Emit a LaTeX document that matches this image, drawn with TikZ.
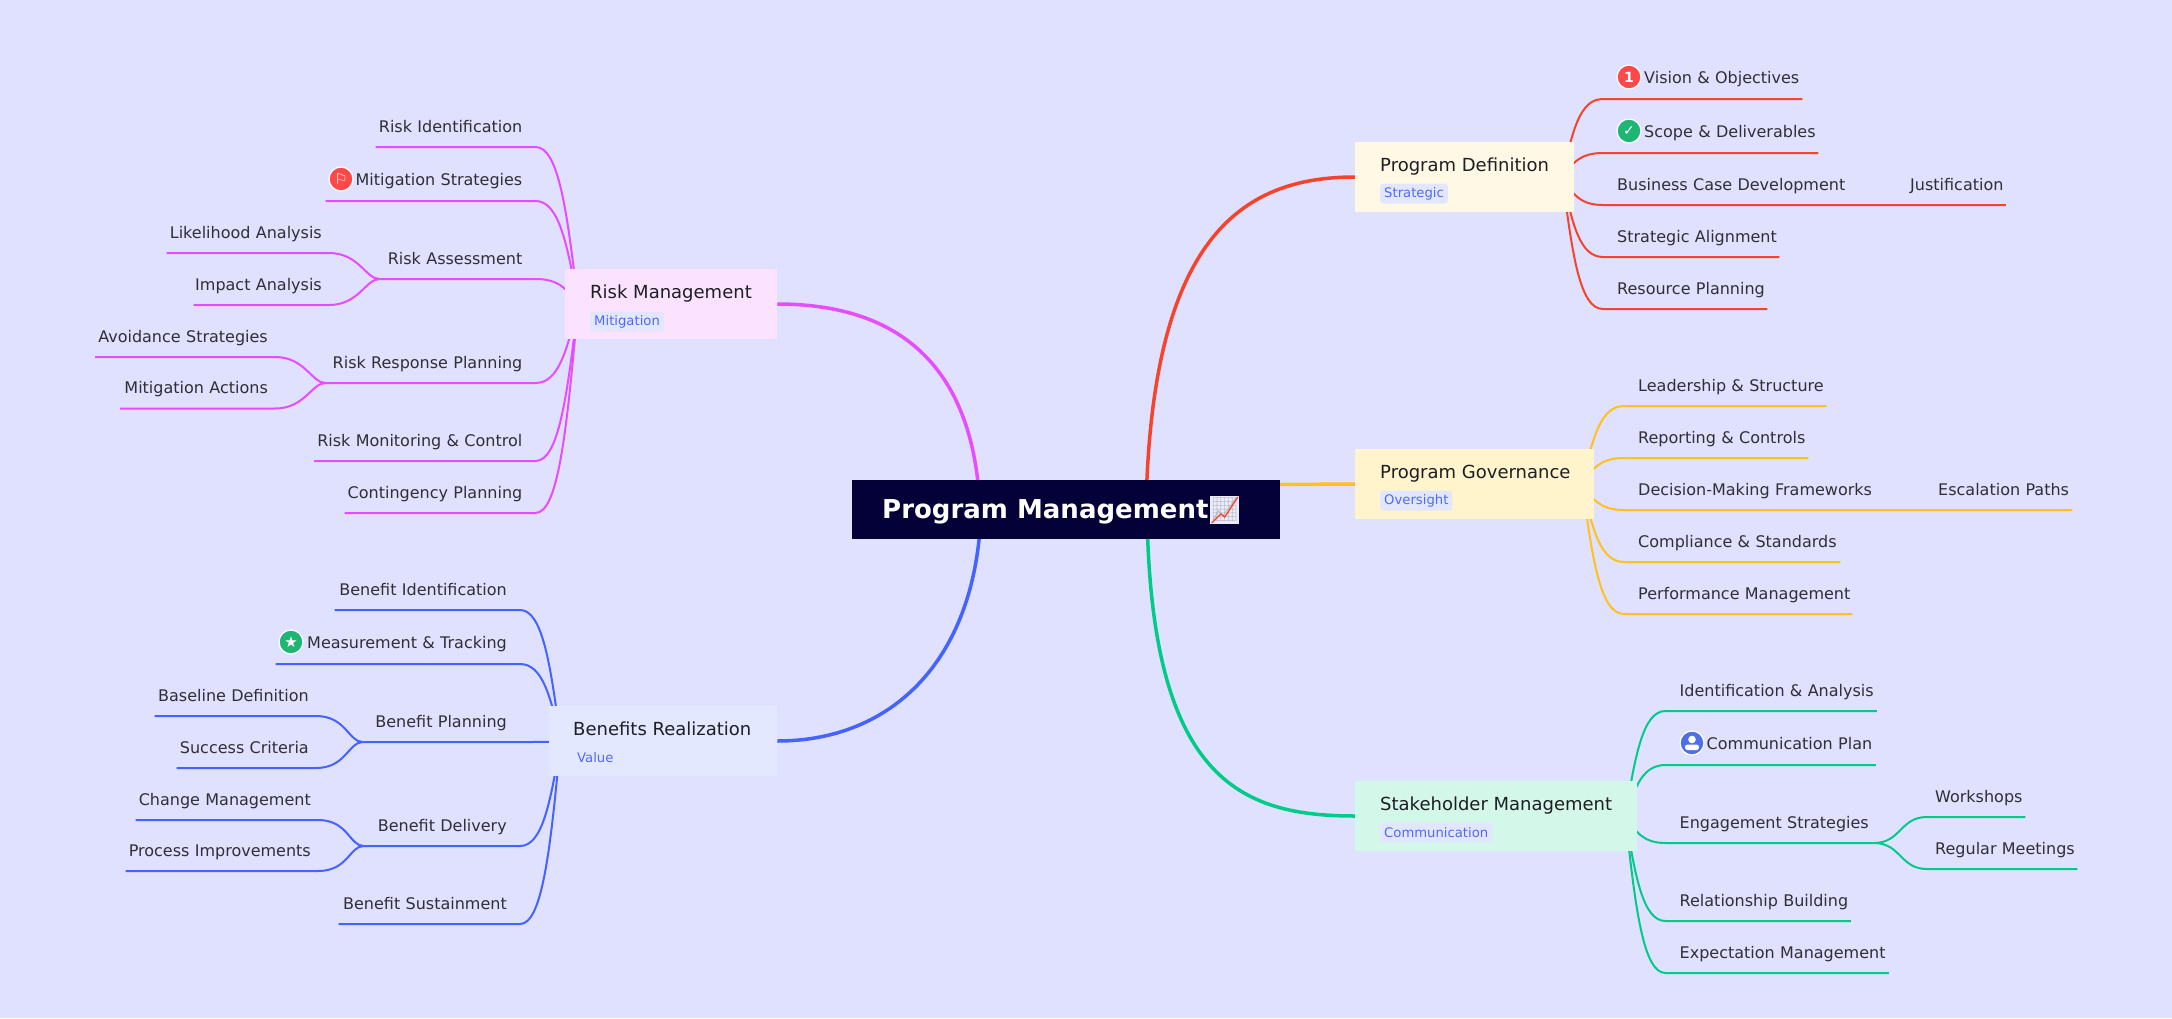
\documentclass[tikz,border=0pt]{standalone}
\usepackage{xcolor}
\usepackage{fontspec}
\setmainfont{DejaVu Sans}
\newfontfamily\emojifont{Noto Emoji}
\usepackage{tikz}
\usetikzlibrary{positioning, backgrounds}
\hyphenpenalty=10000
\exhyphenpenalty=10000

\definecolor{pagebg}{HTML}{E0E0FF}
\definecolor{rootbg}{HTML}{040038}
\definecolor{leaftext}{HTML}{2F2F36}
\definecolor{titletext}{HTML}{1E1E24}
\definecolor{tagtext}{HTML}{4F6BF5}
\definecolor{tagbg}{HTML}{E2E6FF}
\definecolor{redline}{HTML}{F4442C}
\definecolor{yellowline}{HTML}{FFC21A}
\definecolor{greenline}{HTML}{00CC88}
\definecolor{magentaline}{HTML}{E64DFF}
\definecolor{blueline}{HTML}{4563FF}
\definecolor{defbg}{HTML}{FFF8E5}
\definecolor{govbg}{HTML}{FFF4CC}
\definecolor{stakebg}{HTML}{D3F7E8}
\definecolor{riskbg}{HTML}{FBE3FF}
\definecolor{benbg}{HTML}{E3E8FF}
\definecolor{iconred}{HTML}{FF4848}
\definecolor{icongreen}{HTML}{1FB573}
\definecolor{iconblue}{HTML}{4E6FE6}

\begin{document}
\begin{tikzpicture}[x=1pt, y=-1pt]

        % Define block styles
        \tikzstyle{rootbox} = [rectangle, fill=rootbg, minimum width=428pt, minimum height=59pt, inner sep=0pt]
        \tikzstyle{roottitle} = [text=white, inner sep=0pt, font=\fontsize{26}{30}\bfseries\selectfont]
        \tikzstyle{topic} = [rectangle, minimum height=70pt, inner sep=0pt, anchor=west]
        \tikzstyle{title} = [text=titletext, inner sep=0pt, anchor=west, font=\fontsize{18}{22}\selectfont]
        \tikzstyle{tagbox} = [fill=tagbg, text=tagtext, rounded corners=3pt, inner xsep=4pt, inner ysep=0pt, minimum height=20pt, anchor=west, font=\fontsize{13.2}{16}\selectfont]
        \tikzstyle{leaf} = [inner xsep=0pt, inner ysep=10.6pt, text=leaftext, text height=13pt, text depth=4pt, font=\fontsize{16}{20}\selectfont]
        \tikzstyle{rightbase} = [leaf, anchor=south west, align=left]
        \tikzstyle{leftbase} = [leaf, anchor=south east, align=right]
        \tikzstyle{leafright} = [rightbase, execute at begin node=\hspace*{14pt}]
        \tikzstyle{leafleft} = [leftbase, execute at end node=\hspace*{13pt}]
        \tikzstyle{subright} = [rightbase, execute at begin node=\hspace*{8pt}]
        \tikzstyle{subleft} = [leftbase, execute at end node=\hspace*{7pt}]
        \tikzstyle{iconright} = [rightbase, inner ysep=11.6pt, execute at begin node=\hspace*{41pt}]
        \tikzstyle{iconleft} = [leftbase, inner ysep=11.6pt, execute at end node=\hspace*{13pt}]
        \tikzstyle{icon} = [circle, draw=white!90!pagebg, line width=1.3pt, minimum size=24pt, inner sep=0pt, text=white, font=\fontsize{14}{16}\selectfont]
        \tikzstyle{mainarrow} = [line width=3.5pt]
        \tikzstyle{branch} = [line width=2pt]

        \useasboundingbox (0,0) rectangle (2172,1018);

        % Central topic
        \node (root) [rootbox] at (1066,509.5) {};
        \node (roottext) [roottitle, anchor=west] at (882,512) {Program Management};
        \node (rootemoji) [fill=white!92!blue, text=gray!55, inner sep=0pt, minimum size=28pt, anchor=west, font=\emojifont\fontsize{23}{28}\selectfont] at (1210,510) {📈};
        \draw [redline, line width=1.3pt] ([shift={(-13pt,-13pt)}]rootemoji.center) -- ([shift={(-4pt,-4pt)}]rootemoji.center) -- ([shift={(0pt,-7pt)}]rootemoji.center) -- ([shift={(13pt,13pt)}]rootemoji.center);

        % Program Definition
        \node (def) [topic, fill=defbg, minimum width=219pt] at (1355,177) {};
        \node (deftitle) [title] at (1380,166.5) {Program Definition};
        \node (deftag) [tagbox] at (1380,193.5) {Strategic};
        \node (vision) [iconright, text width=199pt] at (1603,99) {Vision \& Objectives};
        \node (scope) [iconright, text width=215pt] at (1603,153) {Scope \& Deliverables};
        \node (business) [leafright, text width=299pt] at (1603,205) {Business Case Development};
        \node (justify) [subright, text width=103.5pt] at (1902,205) {Justification};
        \node (strategic) [leafright, text width=176pt] at (1603,257) {Strategic Alignment};
        \node (resource) [leafright, text width=164pt] at (1603,309) {Resource Planning};
        \node (visionicon) [icon, fill=iconred, font=\fontsize{14}{16}\bfseries\selectfont] at (1629,77) {1};
        \node (scopeicon) [icon, fill=icongreen] at (1629,131) {✓};

        % Program Governance
        \node (gov) [topic, fill=govbg, minimum width=239pt] at (1355,484) {};
        \node (govtitle) [title] at (1380,473.5) {Program Governance};
        \node (govtag) [tagbox] at (1380,500.5) {Oversight};
        \node (leader) [leafright, text width=202pt] at (1624,406) {Leadership \& Structure};
        \node (report) [leafright, text width=184pt] at (1624,458) {Reporting \& Controls};
        \node (decision) [leafright, text width=306pt] at (1624,510) {Decision-Making Frameworks};
        \node (escalate) [subright, text width=142pt] at (1930,510) {Escalation Paths};
        \node (comply) [leafright, text width=216pt] at (1624,562) {Compliance \& Standards};
        \node (perform) [leafright, text width=228pt] at (1624,614) {Performance Management};

        % Stakeholder Management
        \node (stake) [topic, fill=stakebg, minimum width=282pt] at (1355,816) {};
        \node (staketitle) [title] at (1380,805.5) {Stakeholder Management};
        \node (staketag) [tagbox] at (1380,832.5) {Communication};
        \node (identify) [leafright, text width=211pt] at (1665.5,711) {Identification \& Analysis};
        \node (commplan) [iconright, text width=210pt] at (1665.5,765) {Communication Plan};
        \node (engage) [leafright, text width=208pt] at (1665.5,843) {Engagement Strategies};
        \node (workshops) [subright, text width=98pt] at (1927,817) {Workshops};
        \node (meetings) [subright, text width=150pt] at (1927,869) {Regular Meetings};
        \node (relation) [leafright, text width=185pt] at (1665.5,921) {Relationship Building};
        \node (expect) [leafright, text width=223pt] at (1665.5,973) {Expectation Management};
        \node (commicon) [icon, fill=iconblue] at (1692,743) {};
        \fill [white] ([yshift=3.5pt]commicon.center) circle (3.8pt);
        \fill [white, rounded corners=2.5pt] ([shift={(-7pt,-1.5pt)}]commicon.center) rectangle ([shift={(7pt,-7pt)}]commicon.center);

        % Risk Management
        \node (risk) [topic, fill=riskbg, minimum width=212pt] at (565,304) {};
        \node (risktitle) [title] at (590,293.5) {Risk Management};
        \node (risktag) [tagbox] at (590,321.5) {Mitigation};
        \node (riskid) [leafleft, text width=159.5pt] at (535.5,147) {Risk Identification};
        \node (mitigate) [iconleft, text width=209.5pt] at (535.5,201) {Mitigation Strategies};
        \node (assess) [leafleft, text width=155.5pt] at (535.5,279) {Risk Assessment};
        \node (likely) [subleft, text width=162pt] at (329,253) {Likelihood Analysis};
        \node (impact) [subleft, text width=135pt] at (329,305) {Impact Analysis};
        \node (response) [leafleft, text width=209.5pt] at (535.5,383) {Risk Response Planning};
        \node (avoid) [subleft, text width=179.5pt] at (275,357) {Avoidance Strategies};
        \node (actions) [subleft, text width=154.5pt] at (275,408.5) {Mitigation Actions};
        \node (monitor) [leafleft, text width=221pt] at (535.5,461) {Risk Monitoring \& Control};
        \node (conting) [leafleft, text width=190.5pt] at (535.5,513) {Contingency Planning};
        \node (mitigateicon) [icon, fill=iconred, font=\fontsize{15}{17}\selectfont] at (341,179) {⚐};

        % Benefits Realization
        \node (ben) [topic, fill=benbg, minimum width=228.5pt] at (548.5,741) {};
        \node (bentitle) [title] at (573,729) {Benefits Realization};
        \node (bentag) [tagbox, fill=benbg] at (573,757.5) {Value};
        \node (benid) [leafleft, text width=185pt] at (520,610) {Benefit Identification};
        \node (measure) [iconleft, text width=244pt] at (520,664) {Measurement \& Tracking};
        \node (planning) [leafleft, text width=157pt] at (520,742) {Benefit Planning};
        \node (baseline) [subleft, text width=161pt] at (316,716) {Baseline Definition};
        \node (success) [subleft, text width=139pt] at (316,768) {Success Criteria};
        \node (delivery) [leafleft, text width=156pt] at (520,846) {Benefit Delivery};
        \node (change) [subleft, text width=182pt] at (318,820) {Change Management};
        \node (process) [subleft, text width=192pt] at (318,871) {Process Improvements};
        \node (sustain) [leafleft, text width=181pt] at (520,924) {Benefit Sustainment};
        \node (measureicon) [icon, fill=icongreen, font=\fontsize{15}{17}\selectfont] at (291,642) {★};

        % Lines, behind the boxes
        \begin{scope}[on background layer]
        \fill [pagebg] (0,0) rectangle (2172,1018);

        \draw [mainarrow, redline] ([xshift=80pt]root.center) .. controls +(5,-270) and +(-115,0) .. (def.west);
        \draw [mainarrow, yellowline] ([yshift=25pt]root.east) -- (gov.west);
        \draw [mainarrow, greenline] ([xshift=81pt]root.center) .. controls +(3,270) and +(-115,0) .. (stake.west);
        \draw [mainarrow, magentaline] ([xshift=-86pt]root.center) .. controls +(-6,-150) and +(115,0) .. (risk.east);
        \draw [mainarrow, blueline] ([xshift=-85pt]root.center) .. controls +(-4,150) and +(115,0) .. (ben.east);

        \draw [branch, redline] ([xshift=-12pt]def.east) .. controls +(10,-47) and +(-23,0) .. (vision.south west) -- (vision.south east);
        \draw [branch, redline] ([xshift=-12pt]def.east) .. controls +(10,-14) and +(-23,0) .. (scope.south west) -- (scope.south east);
        \draw [branch, redline] ([xshift=-12pt]def.east) .. controls +(10,17) and +(-23,0) .. (business.south west) -- (justify.south east);
        \draw [branch, redline] ([xshift=-12pt]def.east) .. controls +(10,48) and +(-23,0) .. (strategic.south west) -- (strategic.south east);
        \draw [branch, redline] ([xshift=-12pt]def.east) .. controls +(10,79) and +(-23,0) .. (resource.south west) -- (resource.south east);

        \draw [branch, yellowline] ([xshift=-12pt]gov.east) .. controls +(10,-47) and +(-23,0) .. (leader.south west) -- (leader.south east);
        \draw [branch, yellowline] ([xshift=-12pt]gov.east) .. controls +(10,-16) and +(-23,0) .. (report.south west) -- (report.south east);
        \draw [branch, yellowline] ([xshift=-12pt]gov.east) .. controls +(10,16) and +(-23,0) .. (decision.south west) -- (escalate.south east);
        \draw [branch, yellowline] ([xshift=-12pt]gov.east) .. controls +(10,47) and +(-23,0) .. (comply.south west) -- (comply.south east);
        \draw [branch, yellowline] ([xshift=-12pt]gov.east) .. controls +(10,78) and +(-23,0) .. (perform.south west) -- (perform.south east);

        \draw [branch, greenline] ([xshift=-12pt]stake.east) .. controls +(10,-63) and +(-22,0) .. (identify.south west) -- (identify.south east);
        \draw [branch, greenline] ([xshift=-12pt]stake.east) .. controls +(10,-31) and +(-22,0) .. (commplan.south west) -- (commplan.south east);
        \draw [branch, greenline] ([xshift=-12pt]stake.east) .. controls +(10,16) and +(-22,0) .. (engage.south west) -- (engage.south east);
        \draw [branch, greenline] ([xshift=-12pt]stake.east) .. controls +(10,63) and +(-22,0) .. (relation.south west) -- (relation.south east);
        \draw [branch, greenline] ([xshift=-12pt]stake.east) .. controls +(10,94) and +(-22,0) .. (expect.south west) -- (expect.south east);
        \draw [branch, greenline] (engage.south east) .. controls +(27,0) and +(-27,0) .. (workshops.south west) -- (workshops.south east);
        \draw [branch, greenline] (engage.south east) .. controls +(27,0) and +(-27,0) .. (meetings.south west) -- (meetings.south east);

        \draw [branch, magentaline] ([xshift=13pt]risk.west) .. controls +(-11,-94) and +(23,0) .. (riskid.south east) -- (riskid.south west);
        \draw [branch, magentaline] ([xshift=13pt]risk.west) .. controls +(-11,-62) and +(23,0) .. (mitigate.south east) -- (mitigate.south west);
        \draw [branch, magentaline] ([xshift=13pt]risk.west) .. controls +(-11,-15) and +(23,0) .. (assess.south east) -- (assess.south west);
        \draw [branch, magentaline] ([xshift=13pt]risk.west) .. controls +(-11,47) and +(23,0) .. (response.south east) -- (response.south west);
        \draw [branch, magentaline] ([xshift=13pt]risk.west) .. controls +(-11,94) and +(23,0) .. (monitor.south east) -- (monitor.south west);
        \draw [branch, magentaline] ([xshift=13pt]risk.west) .. controls +(-11,125) and +(23,0) .. (conting.south east) -- (conting.south west);
        \draw [branch, magentaline] (assess.south west) .. controls +(-14,0) and +(30,0) .. (likely.south east) -- (likely.south west);
        \draw [branch, magentaline] (assess.south west) .. controls +(-14,0) and +(30,0) .. (impact.south east) -- (impact.south west);
        \draw [branch, magentaline] (response.south west) .. controls +(-14,0) and +(30,0) .. (avoid.south east) -- (avoid.south west);
        \draw [branch, magentaline] (response.south west) .. controls +(-14,0) and +(30,0) .. (actions.south east) -- (actions.south west);

        \draw [branch, blueline] ([xshift=12pt]ben.west) .. controls +(-10,-79) and +(22,0) .. (benid.south east) -- (benid.south west);
        \draw [branch, blueline] ([xshift=12pt]ben.west) .. controls +(-10,-46) and +(22,0) .. (measure.south east) -- (measure.south west);
        \draw [branch, blueline] ([xshift=12pt]ben.west) .. controls +(-10,1) and +(22,0) .. (planning.south east) -- (planning.south west);
        \draw [branch, blueline] ([xshift=12pt]ben.west) .. controls +(-10,63) and +(22,0) .. (delivery.south east) -- (delivery.south west);
        \draw [branch, blueline] ([xshift=12pt]ben.west) .. controls +(-10,110) and +(22,0) .. (sustain.south east) -- (sustain.south west);
        \draw [branch, blueline] (planning.south west) .. controls +(-14,0) and +(30,0) .. (baseline.south east) -- (baseline.south west);
        \draw [branch, blueline] (planning.south west) .. controls +(-14,0) and +(30,0) .. (success.south east) -- (success.south west);
        \draw [branch, blueline] (delivery.south west) .. controls +(-14,0) and +(30,0) .. (change.south east) -- (change.south west);
        \draw [branch, blueline] (delivery.south west) .. controls +(-14,0) and +(30,0) .. (process.south east) -- (process.south west);
        \end{scope}

      \end{tikzpicture}
\end{document}
